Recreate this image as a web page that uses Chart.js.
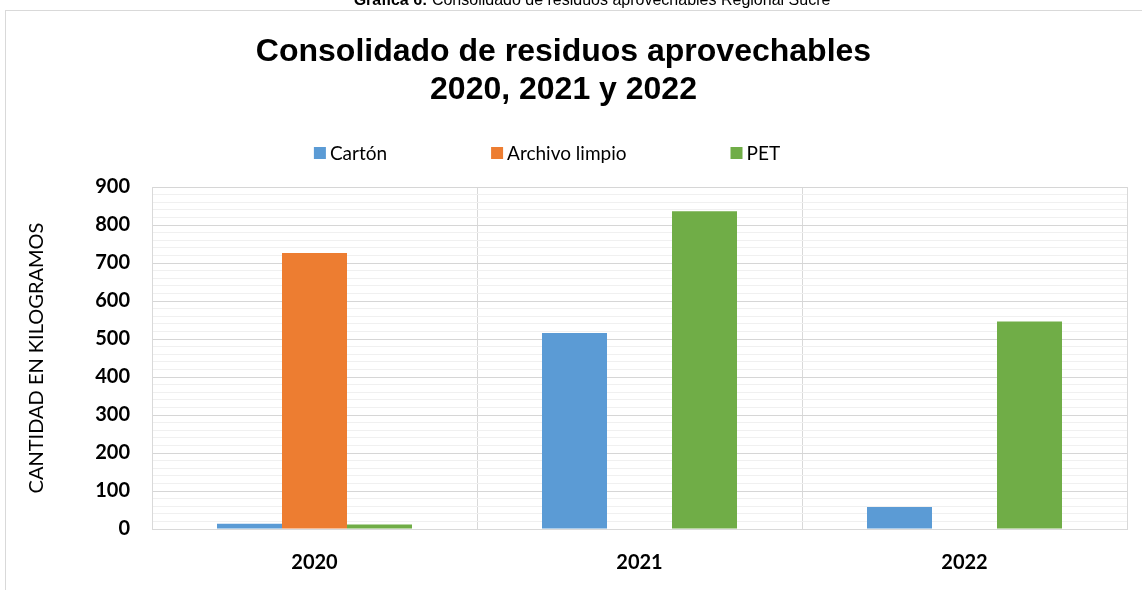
<!DOCTYPE html>
<html lang="es">
<head>
  <meta charset="UTF-8">
  <title>Consolidado de residuos aprovechables 2020, 2021 y 2022</title>
  <script src="https://cdn.jsdelivr.net/npm/chart.js"></script>
  <style>
    body { margin: 0; background: #fff; overflow: hidden; }
    #wrap { position: relative; width: 1142px; height: 590px; }
    #caption {
      position: absolute; left: 0; width: 1184px; top: -9px;
      text-align: center; font: 16px "Liberation Sans", Arial, sans-serif; color: #000;
      white-space: nowrap;
    }
    canvas { position: absolute; left: 0; top: 0; }
  </style>
</head>
<body>
<div id="wrap">
  <canvas id="myChart" width="1142" height="590"></canvas>
  <div id="caption"><b>Gráfica 6:</b> Consolidado de residuos aprovechables Regional Sucre</div>
</div>

<script>
  const years = ['2020', '2021', '2022'];
  const carton = [14, 516, 58];
  const archivoLimpio = [726, 0, 0];
  const pet = [12, 836, 546];

  const seriesNames = ['Cartón', 'Archivo limpio', 'PET'];
  const seriesColors = ['#5B9BD5', '#ED7D31', '#70AD47'];

  const calibri = 'Lato, "Open Sans", sans-serif';

  // light frame around the chart object
  const framePlugin = {
    id: 'frame',
    beforeDraw(chart) {
      const ctx = chart.ctx;
      ctx.save();
      ctx.strokeStyle = '#d9d9d9';
      ctx.lineWidth = 1;
      ctx.strokeRect(5.5, 10.5, chart.width + 20, chart.height + 20);
      ctx.restore();
    }
  };

  // legend spread out like the office chart one
  const spreadLegend = {
    id: 'spreadLegend',
    afterDraw(chart) {
      const ctx = chart.ctx;
      const box = 12, gapText = 4, gapItem = 104, cy = 153;
      ctx.save();
      ctx.font = '19px ' + calibri;
      ctx.textBaseline = 'middle';
      const items = chart.data.datasets.map(ds => ({
        label: ds.label, color: ds.backgroundColor,
        w: box + gapText + ctx.measureText(ds.label).width
      }));
      const total = items.reduce((s, it) => s + it.w, 0) + gapItem * (items.length - 1);
      let x = 547 - total / 2;
      items.forEach(it => {
        ctx.fillStyle = it.color;
        ctx.fillRect(x, cy - box / 2, box, box);
        ctx.fillStyle = '#000';
        ctx.fillText(it.label, x + box + gapText, cy + 1);
        x += it.w + gapItem;
      });
      ctx.restore();
    }
  };

  const ctx = document.getElementById('myChart').getContext('2d');

  const myChart = new Chart(ctx, {
    type: 'bar',
    data: {
      labels: years,
      datasets: [
        { label: seriesNames[0], data: carton, backgroundColor: seriesColors[0] },
        { label: seriesNames[1], data: archivoLimpio, backgroundColor: seriesColors[1] },
        { label: seriesNames[2], data: pet, backgroundColor: seriesColors[2] }
      ]
    },
    options: {
      responsive: false,
      animation: false,
      categoryPercentage: 0.6,
      barPercentage: 1.0,
      layout: { padding: { left: 0, right: 15, top: 0, bottom: 0 } },
      plugins: {
        legend: { display: false },
        tooltip: { enabled: false },
        title: {
          display: true,
          text: ['Consolidado de residuos aprovechables', '2020, 2021 y 2022'],
          color: '#000',
          font: { family: '"Liberation Sans", Arial, sans-serif', size: 32, weight: 'bold', lineHeight: 1.2 },
          padding: { top: 33, bottom: 77.2 }
        }
      },
      scales: {
        x: {
          grid: { color: '#d9d9d9', drawTicks: false, offset: true },
          border: { color: '#d9d9d9' },
          ticks: { color: '#000', font: { family: calibri, size: 20, weight: 'bold' }, padding: 22 },
          afterFit(scale) { scale.height = 61; }
        },
        y: {
          min: 0,
          max: 900,
          grid: {
            drawTicks: false,
            color: c => (c.tick && c.tick.value % 100 === 0) ? '#d6d6d6' : '#f0f0f0'
          },
          border: { color: '#d9d9d9' },
          ticks: {
            stepSize: 20,
            autoSkip: false,
            padding: 22,
            color: '#000',
            font: { family: calibri, size: 20, weight: 'bold' },
            callback: v => (v % 100 === 0 ? v : '')
          },
          title: {
            display: true,
            text: 'CANTIDAD EN KILOGRAMOS',
            color: '#000',
            font: { family: calibri, size: 20 },
            padding: { top: 25, bottom: 0 }
          },
          afterFit(scale) { scale.width = 152; }
        }
      }
    },
    plugins: [framePlugin, spreadLegend]
  });
</script>
</body>
</html>
